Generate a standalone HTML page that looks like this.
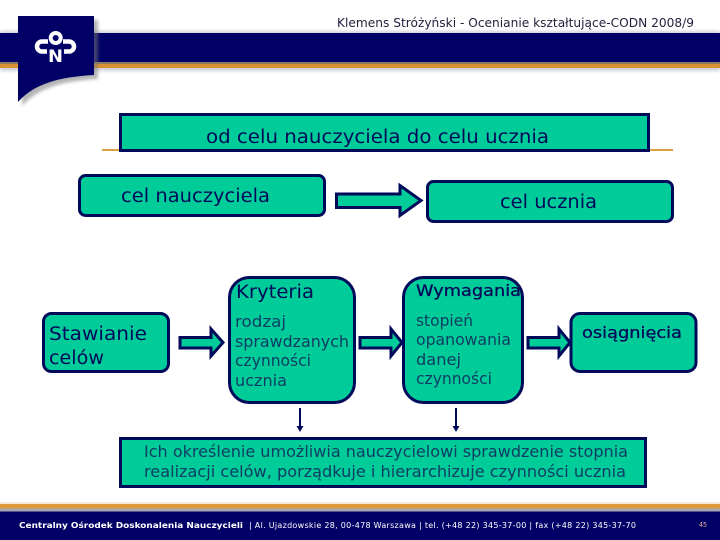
<!DOCTYPE html>
<html><head><meta charset="utf-8"><style>
html,body{margin:0;padding:0;background:#fff;width:720px;height:540px;overflow:hidden}
svg{display:block}
text{font-family:"DejaVu Sans","Liberation Sans",sans-serif;fill:#000a5a}
text.t{fill:#0f3d63}
</style></head><body>
<svg width="720" height="540" viewBox="0 0 720 540" xmlns="http://www.w3.org/2000/svg">
<defs><filter id="b" x="-10%" y="-30%" width="120%" height="160%"><feGaussianBlur stdDeviation="1.5"/></filter></defs>
<rect x="0" y="31" width="720" height="40" fill="#9a9ab0" opacity=".45" filter="url(#b)"/>
<rect x="0" y="33" width="720" height="29" fill="#000066"/>
<rect x="0" y="62" width="720" height="2" fill="#8a7a60"/>
<rect x="0" y="64" width="720" height="4" fill="#d8922f"/>
<path d="M22 20H98V79C62 81 38 88 22 106Z" fill="#777" opacity=".55" filter="url(#b)"/>
<path d="M18 16H94V75C58 77 34 84 18 102Z" fill="#000066"/>
<circle cx="55.7" cy="38" r="5" fill="none" stroke="#fff" stroke-width="4"/>
<path d="M48 41.500H42A5 5 0 0 0 42 51.500H47" fill="none" stroke="#fff" stroke-width="4.500"/>
<path d="M63 41.500H69A5 5 0 0 1 69 51.500H64" fill="none" stroke="#fff" stroke-width="4.500"/>
<text x="55.5" y="62" font-size="17" font-weight="700" text-anchor="middle" style="fill:#fff" textLength="15" lengthAdjust="spacingAndGlyphs">N</text>
<text x="337" y="27" font-size="12" style="fill:#22223f" textLength="357" lengthAdjust="spacingAndGlyphs">Klemens Stróżyński - Ocenianie kształtujące-CODN 2008/9</text>

<rect x="102" y="149" width="571" height="2" fill="#dca040"/>
<g fill="#00cc99" stroke="#000a5a" stroke-width="3">
<rect x="120.500" y="114.500" width="528" height="36"/>
<rect x="79.500" y="175.500" width="245" height="40" rx="6"/>
<rect x="427.500" y="181.500" width="245" height="40" rx="6"/>
<rect x="43.500" y="313.500" width="125" height="58" rx="8"/>
<rect x="229.500" y="277.500" width="125" height="125" rx="20"/>
<rect x="403.500" y="277.500" width="119" height="125" rx="20"/>
<rect x="571" y="313.500" width="125" height="58" rx="9"/>
<rect x="120.500" y="438.500" width="525" height="48"/>
<path d="M336.500 194H400V185.500L421 200.500L400 215.500V207.500H336.500Z"/>
<path d="M180 337.500H211V329L223 342.500L211 356V348H180Z"/>
<path d="M360 337.500H391V329L402 342.500L391 356V348H360Z"/>
<path d="M528 337.500H559V329L570 342.500L559 356V348H528Z"/>
</g>
<g stroke="#000a5a" stroke-width="2" fill="#000a5a">
<path d="M300 408V428" fill="none"/><path d="M296.500 426H303.500L300 432Z" stroke="none"/>
<path d="M456 408V428" fill="none"/><path d="M452.500 426H459.500L456 432Z" stroke="none"/>
</g>

<text x="206" y="143" font-size="18.500" textLength="343" lengthAdjust="spacingAndGlyphs">od celu nauczyciela do celu ucznia</text>
<text x="121" y="202" font-size="18.500" textLength="149" lengthAdjust="spacingAndGlyphs">cel nauczyciela</text>
<text x="500" y="208" font-size="18.500" textLength="97" lengthAdjust="spacingAndGlyphs">cel ucznia</text>
<text x="49" y="340" font-size="18.500" textLength="98" lengthAdjust="spacingAndGlyphs">Stawianie</text>
<text x="49" y="364" font-size="18.500" textLength="55" lengthAdjust="spacingAndGlyphs">celów</text>
<text x="236" y="298" font-size="18.500" textLength="78" lengthAdjust="spacingAndGlyphs">Kryteria</text>
<text class="t" x="235" y="327" font-size="16" textLength="51" lengthAdjust="spacingAndGlyphs">rodzaj</text>
<text class="t" x="235" y="347" font-size="16" textLength="114" lengthAdjust="spacingAndGlyphs">sprawdzanych</text>
<text class="t" x="235" y="366" font-size="16" textLength="76" lengthAdjust="spacingAndGlyphs">czynności</text>
<text class="t" x="235" y="386" font-size="16" textLength="52" lengthAdjust="spacingAndGlyphs">ucznia</text>
<text x="416" y="296" font-size="16" stroke="#000a5a" stroke-width=".3" textLength="105" lengthAdjust="spacingAndGlyphs">Wymagania</text>
<text class="t" x="416" y="326" font-size="16" textLength="57" lengthAdjust="spacingAndGlyphs">stopień</text>
<text class="t" x="416" y="345" font-size="16" textLength="95" lengthAdjust="spacingAndGlyphs">opanowania</text>
<text class="t" x="416" y="365" font-size="16" textLength="45" lengthAdjust="spacingAndGlyphs">danej</text>
<text class="t" x="416" y="384" font-size="16" textLength="76" lengthAdjust="spacingAndGlyphs">czynności</text>
<text x="582" y="338" font-size="16" stroke="#000a5a" stroke-width=".3" textLength="100" lengthAdjust="spacingAndGlyphs">osiągnięcia</text>
<text class="t" x="144" y="457" font-size="16" textLength="484" lengthAdjust="spacingAndGlyphs">Ich określenie umożliwia nauczycielowi sprawdzenie stopnia</text>
<text class="t" x="144" y="477" font-size="16" textLength="482" lengthAdjust="spacingAndGlyphs">realizacji celów, porządkuje i hierarchizuje czynności ucznia</text>

<rect x="0" y="502" width="720" height="2" fill="#f3ead8"/>
<rect x="0" y="504" width="720" height="4.500" fill="#dc9a3c"/>
<rect x="0" y="508.500" width="720" height="3" fill="#a8a8b0"/>
<rect x="0" y="511.500" width="720" height="28.500" fill="#000066"/>
<text x="19" y="528" font-size="8" font-weight="700" style="fill:#fff" textLength="224" lengthAdjust="spacingAndGlyphs">Centralny Ośrodek Doskonalenia Nauczycieli</text>
<text x="249" y="528" font-size="8" style="fill:#fff" textLength="387" lengthAdjust="spacing">| Al. Ujazdowskie 28, 00-478 Warszawa | tel. (+48 22) 345-37-00 | fax (+48 22) 345-37-70</text>
<text x="699" y="527" font-size="7" style="fill:#e8b090" textLength="8" lengthAdjust="spacingAndGlyphs">45</text>
</svg>
</body></html>
